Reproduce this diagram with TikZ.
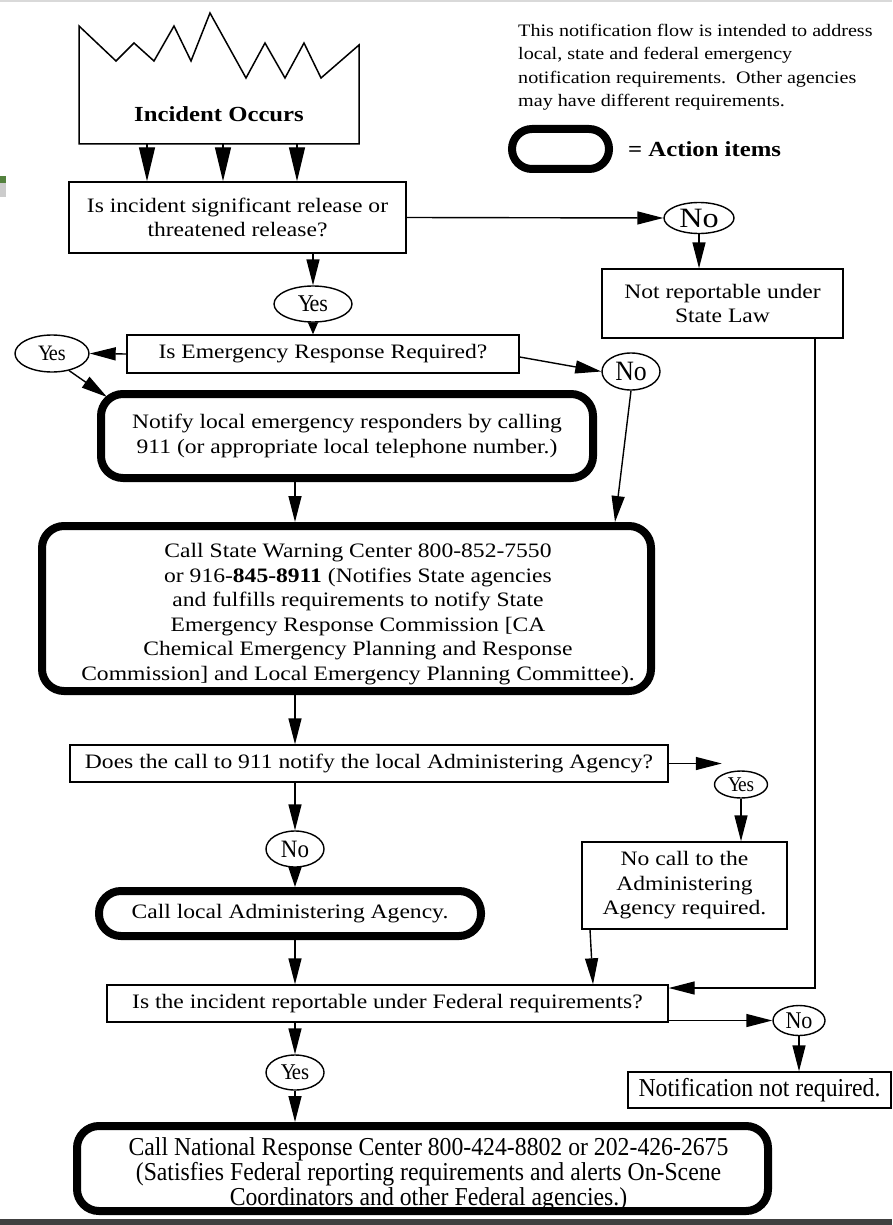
\documentclass[tikz,border=0pt]{standalone}
\usepackage{fontspec}
\setmainfont{Liberation Serif}[FakeStretch=1.15]
\newfontfamily\narrowfam{Liberation Serif}[FakeStretch=0.92]
\usetikzlibrary{arrows.meta,shapes.geometric,calc}
\definecolor{artgreen}{RGB}{84,130,62}
\newcommand\fsMain{\fontsize{20.5pt}{24.5pt}\selectfont}
\newcommand\fsBig{\fontsize{21.5pt}{24.5pt}\selectfont}
\newcommand\fsNote{\fontsize{17.5pt}{23.3pt}\selectfont}
\newcommand\fsNarrow{\narrowfam\fontsize{25.8pt}{25pt}\selectfont}
\newcommand\YesTxt{Y\kern-0.18em es}
\tikzset{
  box/.style={draw, line width=1.4pt, inner sep=0pt, align=center, font=\fsMain},
  action/.style={draw, line width=8pt, rounded corners=22pt, inner sep=0pt, align=center, font=\fsMain},
  lab/.style={draw, ellipse, line width=1.4pt, inner sep=0pt},
  arr/.style={line width=1.4pt, -{Triangle[length=26pt,width=13pt]}},
  bigarr/.style={line width=1.4pt, -{Triangle[length=34pt,width=16pt]}},
  shorthead/.style={-{Triangle[length=20pt,width=13pt]}},
  tinyhead/.style={-{Triangle[length=12pt,width=10pt]}},
}
\begin{document}
\begin{tikzpicture}[x=1pt,y=-1pt]
\useasboundingbox (0,0) rectangle (892,1225);
\fill[white] (0,0) rectangle (892,1225);
% scan artefacts
\fill[gray!30] (0,0) rectangle (892,2);
\fill[black!75] (0,1219) rectangle (892,1225);
\fill[artgreen] (0,176) rectangle (6,183);
\fill[gray!40] (0,183) rectangle (6,197);

% incident burst
\node[inner sep=0pt, minimum width=280pt, minimum height=131pt] (inc) at (219,78.5) {};
\draw[line width=1.5pt, line join=miter] (79,144) -- (79,26) -- (116,61) -- (134,43) -- (154,61) -- (174,26) -- (191,61) -- (210,13) -- (246,78) -- (265,43) -- (285,78) -- (304,43) -- (321,78) -- (359,45) -- (359,144) -- cycle;
\node[font=\fsBig\bfseries, inner sep=0pt] (inctxt) at (219,114) {Incident Occurs};

% note and legend
\node[anchor=north west, align=left, inner sep=0pt, font=\fsNote] (note) at (518,24) {This notification flow is intended to address\\local, state and federal emergency\\notification requirements.\ \ Other agencies\\may have different requirements.};
\node[action, rounded corners=20pt, minimum width=97pt, minimum height=40pt] (legend) at (560.5,149) {};
\node[anchor=west, inner sep=0pt, font=\fsBig\bfseries] (legendtxt) at (628,149) {= Action items};

% boxes
\node[box, minimum width=337pt, minimum height=71pt] (q1) at (237.5,217.5) {Is incident significant release or\\threatened release?};
\node[box, minimum width=241pt, minimum height=69pt] (nrs) at (722.5,303.5) {Not reportable under\\State Law};
\node[box, minimum width=392pt, minimum height=38pt] (q2) at (323,354) {Is Emergency Response Required?};
\node[action, minimum width=492pt, minimum height=84pt] (notify) at (347,436) {Notify local emergency responders by calling\\911 (or appropriate local telephone number.)};
\node[action, minimum width=609pt, minimum height=165pt] (state) at (346.5,608.5) {};
\node[inner sep=0pt, align=center, font=\fsMain] (statetxt) at (358,614) {Call State Warning Center 800-852-7550\\or 916-\textbf{845-8911} (Notifies State agencies\\and fulfills requirements to notify State\\Emergency Response Commission [CA\\Chemical Emergency Planning and Response\\Commission] and Local Emergency Planning Committee).};
\node[box, minimum width=598pt, minimum height=37pt] (q3) at (369,763.5) {Does the call to 911 notify the local Administering Agency?};
\node[box, minimum width=205pt, minimum height=87pt] (nocall) at (684.5,885.5) {No call to the\\Administering\\Agency required.};
\node[action, minimum width=382pt, minimum height=45pt] (local) at (290,913.5) {Call local Administering Agency.};
\node[box, minimum width=561pt, minimum height=37pt] (q4) at (387.5,1003.5) {Is the incident reportable under Federal requirements?};
\node[box, font=\fsNarrow, minimum width=263pt, minimum height=36pt] (notreq) at (759.5,1090) {Notification not required.};
\node[action, minimum width=691pt, minimum height=85pt] (nat) at (422.5,1168.5) {};
\node[inner sep=0pt, align=center, font=\fsNarrow] (nattxt) at (428.5,1174) {Call National Response Center 800-424-8802 or 202-426-2675\\(Satisfies Federal reporting requirements and alerts On-Scene\\Coordinators and other Federal agencies.)};

% yes / no labels
\node[lab, minimum width=70pt, minimum height=31pt, font=\fontsize{28pt}{28pt}\selectfont] (no1) at (699,218) {No};
\node[lab, minimum width=78pt, minimum height=36pt, font=\narrowfam\fontsize{24pt}{24pt}\selectfont] (yes1) at (313,304) {\YesTxt};
\node[lab, minimum width=74pt, minimum height=37pt, font=\narrowfam\fontsize{22pt}{22pt}\selectfont] (yes2) at (52,353.5) {\YesTxt};
\node[lab, minimum width=58pt, minimum height=37pt, font=\narrowfam\fontsize{28pt}{28pt}\selectfont] (no2) at (631,371.5) {No};
\node[lab, minimum width=53pt, minimum height=27pt, font=\narrowfam\fontsize{21pt}{21pt}\selectfont] (yes3) at (741,784.5) {\YesTxt};
\node[lab, minimum width=58pt, minimum height=36pt, font=\narrowfam\fontsize{25pt}{25pt}\selectfont] (no3) at (295,849) {No};
\node[lab, minimum width=52pt, minimum height=30pt, font=\narrowfam\fontsize{24pt}{24pt}\selectfont] (no4) at (799,1020.5) {No};
\node[lab, minimum width=58pt, minimum height=35pt, font=\narrowfam\fontsize{22.5pt}{22.5pt}\selectfont] (yes4) at (295,1072.5) {\YesTxt};

\coordinate (trunk) at (295,0);

% connectors
\draw[bigarr] ([xshift=-72pt]inc.south) -- ([xshift=-72pt]inc.south |- q1.north);
\draw[bigarr] ([xshift=4pt]inc.south) -- ([xshift=4pt]inc.south |- q1.north);
\draw[bigarr] ([xshift=78pt]inc.south) -- ([xshift=78pt]inc.south |- q1.north);
\draw[arr] (q1.east) -- (no1.west);
\draw[arr] (no1.south) -- (no1.south |- nrs.north);
\draw[arr] (yes1.north |- q1.south) -- (yes1.north);
\draw[arr, tinyhead] (yes1.south) -- (yes1.south |- q2.north);
\draw[arr] (q2.west) -- (yes2.east);
\draw[arr] (yes2.-45) -- ([xshift=10pt,yshift=-7pt]notify.north west);
\draw[arr] ([yshift=-3pt]q2.east) -- (no2.west);
\draw[arr] (no2.south) -- ([xshift=268.5pt]state.north);
\draw[arr] (notify.south -| trunk) -- (state.north -| trunk);
\draw[arr] (state.south -| trunk) -- (q3.north -| trunk);
\draw[arr] (q3.east) -- (q3.east -| yes3.north west);
\draw[arr] (yes3.south) -- (yes3.south |- nocall.north);
\draw[arr] (no3.north |- q3.south) -- (no3.north);
\draw[arr, shorthead] (no3.south) -- (no3.south |- local.north);
\draw[arr] (local.south -| trunk) -- (q4.north -| trunk);
\draw[arr] ([xshift=-94.5pt]nocall.south) -- ([xshift=205.5pt]q4.north);
\draw[arr] ([xshift=92.5pt]nrs.south) |- ([yshift=15.5pt]q4.east);
\draw[arr] ([yshift=-17pt]q4.east) -- (no4.west);
\draw[arr] (no4.south) -- (no4.south |- notreq.north);
\draw[arr] (yes4.north |- q4.south) -- (yes4.north);
\draw[arr] (yes4.south) -- (yes4.south |- nat.north);
\end{tikzpicture}
\end{document}
